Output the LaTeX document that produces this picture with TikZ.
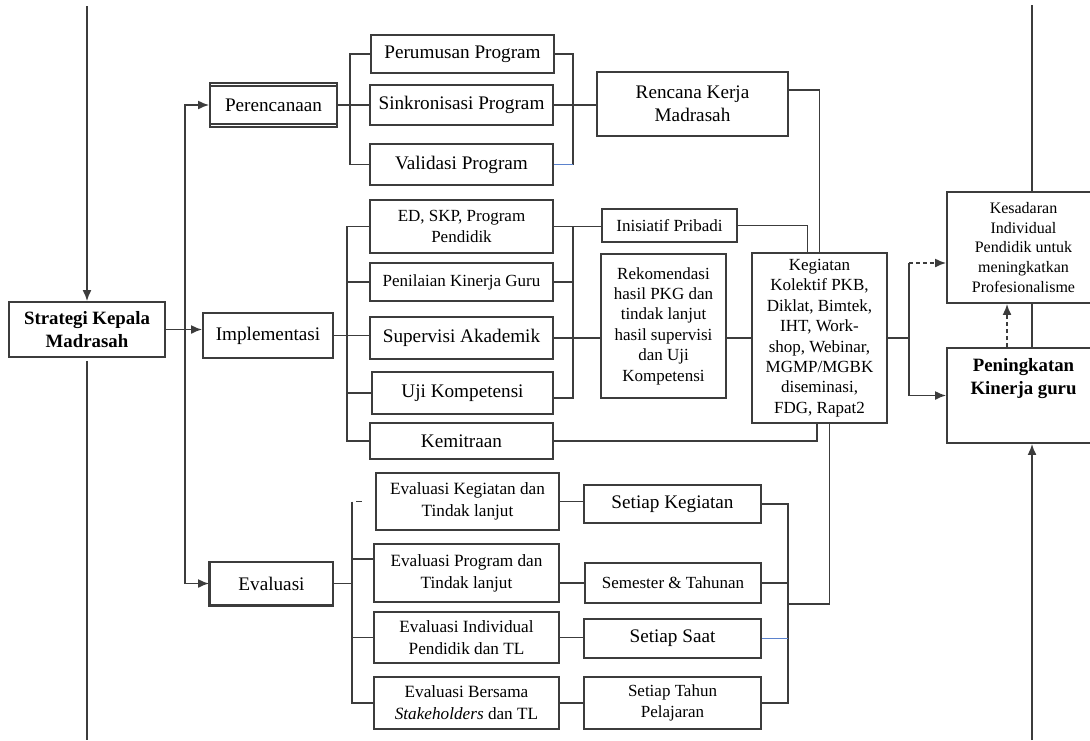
\documentclass[tikz,border=0pt]{standalone}
\usepackage{fontspec}
\setmainfont{Liberation Serif}
\usetikzlibrary{arrows.meta}

\definecolor{linegray}{RGB}{60,60,60}
\definecolor{linkblue}{RGB}{91,130,205}

\tikzset{
  box/.style={draw=linegray, line width=0.9pt, fill=white, align=center, inner sep=1pt},
  sz/.style 2 args={minimum width=#1*0.5pt, minimum height=#2*0.5pt},
  bigtext/.style={font=\fontsize{9.6}{11.5}\selectfont},
  midtext/.style={font=\fontsize{8.5}{10.2}\selectfont},
  evtext/.style={font=\fontsize{8.6}{11}\selectfont},
  smalltext/.style={font=\fontsize{8}{9.9}\selectfont},
  boldtext/.style={font=\fontsize{9.4}{11.8}\selectfont\bfseries},
  conn/.style={draw=linegray, line width=0.9pt},
  dashconn/.style={conn, dash pattern=on 2pt off 1.5pt}
}

\begin{document}
\begin{tikzpicture}[x=0.5pt, y=-0.5pt, >={Latex[length=5.5pt,width=4.5pt]}]
  \clip (0,0) rectangle (1090,740); % ukuran gambar

  % kolom kiri
  \node[box, boldtext, sz={156}{55}] (strategi) at (87,329.5) {Strategi Kepala\\Madrasah};
  \node[box, bigtext, sz={127}{44}] (perencanaan) at (273.5,105) {Perencanaan};
  \node[box, bigtext, sz={130}{45}] (implementasi) at (268,335.5) {Implementasi};
  \node[box, bigtext, sz={123}{43}] (evaluasi) at (271.5,583.5) {Evaluasi};

  % perencanaan
  \node[box, bigtext, sz={183}{38}] (perumusan) at (462.5,54) {Perumusan Program};
  \node[box, bigtext, sz={183}{40}] (sinkronisasi) at (461.5,105) {Sinkronisasi Program};
  \node[box, bigtext, sz={183}{41}] (validasi) at (461.5,164.5) {Validasi Program};
  \node[box, bigtext, sz={191}{64}] (rencana) at (692.5,104) {Rencana Kerja\\Madrasah};

  % implementasi
  \node[box, midtext, sz={183}{53}] (edskp) at (461.5,226.5) {ED, SKP, Program\\Pendidik};
  \node[box, midtext, sz={183}{38}] (penilaian) at (461.5,282) {Penilaian Kinerja Guru};
  \node[box, bigtext, sz={183}{42}] (supervisi) at (461.5,338) {Supervisi Akademik};
  \node[box, bigtext, sz={181}{42}] (uji) at (462.5,393) {Uji Kompetensi};
  \node[box, bigtext, sz={183}{36}] (kemitraan) at (461.5,441) {Kemitraan};
  \node[box, midtext, sz={135}{33}] (inisiatif) at (669.5,225.5) {Inisiatif Pribadi};
  \node[box, midtext, sz={125}{144}] (rekomendasi) at (663.5,326)
    {Rekomendasi\\hasil PKG dan\\tindak lanjut\\hasil supervisi\\dan Uji\\Kompetensi};
  \node[box, midtext, sz={135}{170}] (kegiatan) at (819.5,338)
    {Kegiatan\\Kolektif PKB,\\Diklat, Bimtek,\\IHT, Work-\\shop, Webinar,\\MGMP/MGBK\\diseminasi,\\FDG, Rapat2};

  % hasil
  \node[box, smalltext, sz={153}{111}] (kesadaran) at (1023.5,247.5)
    {Kesadaran\\Individual\\Pendidik untuk\\meningkatkan\\Profesionalisme};
  \node[box, sz={153}{95}] (peningkatan) at (1023.5,395.5) {};
  \node[boldtext, align=center, anchor=north] (peningkatanlbl) at ([yshift=-2pt]peningkatan.north)
    {Peningkatan\\Kinerja guru};

  % evaluasi
  \node[box, evtext, sz={183}{57}] (evkegiatan) at (467.5,501.5) {Evaluasi Kegiatan dan\\Tindak lanjut};
  \node[box, evtext, sz={185}{58}] (evprogram) at (466.5,573) {Evaluasi Program dan\\Tindak lanjut};
  \node[box, evtext, sz={185}{51}] (evindividu) at (466.5,637.5) {Evaluasi Individual\\Pendidik dan TL};
  \node[box, evtext, sz={185}{52}] (evbersama) at (466.5,703) {Evaluasi Bersama\\\textit{Stakeholders} dan TL};
  \node[box, bigtext, sz={177}{38}] (stkegiatan) at (672.5,504) {Setiap Kegiatan};
  \node[box, midtext, sz={176}{40}] (stsemester) at (673,583) {Semester \& Tahunan};
  \node[box, bigtext, sz={177}{39}] (stsaat) at (672.5,638.5) {Setiap Saat};
  \node[box, midtext, sz={177}{52}] (sttahun) at (672.5,703) {Setiap Tahun\\Pelajaran};

  % garis tepi ganda
  \draw[conn] ([yshift=-2pt]perencanaan.north west) -- ([yshift=-2pt]perencanaan.north east);
  \draw[conn] ([yshift=2pt]perencanaan.south west) -- ([yshift=2pt]perencanaan.south east);
  \draw[conn, line width=1.4pt] (evaluasi.north west) -- (evaluasi.south west) -- (evaluasi.south east);

  % titik bantu
  \coordinate (topL) at (87,6);
  \coordinate (botL) at (87,740);
  \coordinate (topR) at (1032,5);
  \coordinate (botR) at (1032,740);
  \coordinate (pbl) at (350,0);
  \coordinate (pbr) at (573,0);
  \coordinate (ibl) at (347,0);
  \coordinate (ibr) at (573,0);
  \coordinate (ebl) at (352,0);
  \coordinate (ebr) at (788,0);

  % strategi
  \draw[conn, ->] (topL) -- (strategi.north);
  \draw[conn] ([yshift=-1.5pt]strategi.south) -- (botL);
  \draw[conn, ->] (strategi.east) -- (strategi.east -| implementasi.west);
  \draw[conn, <->] (perencanaan.west) -| (185,400) |- (evaluasi.west);

  % perencanaan
  \draw[conn] (perencanaan.east) -- (sinkronisasi.west);
  \draw[conn] (perumusan.west) -| (pbl |- validasi.west) -- (validasi.west);
  \draw[conn] (perumusan.east) -| (pbr |- validasi.east);
  \draw[linkblue, line width=0.6pt] (validasi.east) -- (validasi.east -| pbr);
  \draw[conn] (sinkronisasi.east) -- (sinkronisasi.east -| rencana.west);
  \draw[conn] ([yshift=7pt]rencana.east) -| (kegiatan.north);

  % implementasi
  \draw[conn] (implementasi.east) -- (implementasi.east -| supervisi.west);
  \draw[conn] (edskp.west) -| (ibl |- kemitraan.west) -- (kemitraan.west);
  \foreach \n in {penilaian, uji}
    \draw[conn] (\n.west) -- (\n.west -| ibl);
  \draw[conn] (edskp.east) -- (edskp.east -| inisiatif.west);
  \draw[conn] (ibr |- edskp.east) |- ([yshift=-2.5pt]uji.east);
  \draw[conn] (penilaian.east) -- (penilaian.east -| ibr);
  \draw[conn] (supervisi.east) -- (supervisi.east -| rekomendasi.west);
  \draw[conn] (kegiatan.west) -- (kegiatan.west -| rekomendasi.east);
  \draw[conn] (inisiatif.east) -| ([xshift=-6pt]kegiatan.north);
  \draw[conn] (kemitraan.east) -| ([xshift=-1.25pt]kegiatan.south);

  % hasil
  \draw[conn] (kegiatan.east) -- ++(21,0) coordinate (split);
  \coordinate (kesin) at ([yshift=-7.75pt]kesadaran.west);
  \draw[conn] (split) -- (split |- kesin);
  \draw[dashconn, ->] (split |- kesin) -- (kesin);
  \draw[conn, ->] (split) |- (peningkatan.west);
  \draw[dashconn, ->] ([xshift=-8.25pt]peningkatan.north) -- ([xshift=-8.25pt]kesadaran.south);
  \draw[conn] ([xshift=4.25pt]peningkatan.north) -- ([xshift=4.25pt]kesadaran.south);
  \draw[conn] (topR) -- (topR |- kesadaran.north);
  \draw[conn, ->] (botR) -- (botR |- peningkatan.south);

  % evaluasi
  \draw[conn] (evaluasi.east) -- (evaluasi.east -| ebl);
  \draw[conn] (ebl |- evkegiatan.west) -- (ebl |- evbersama.west) -- (evbersama.west);
  \draw[conn] ([xshift=-9.5pt]evkegiatan.west) -- ++(6,0);
  \draw[conn] ([yshift=7pt]evprogram.west) -- ([yshift=7pt]evprogram.west -| ebl);
  \draw[conn] (evindividu.west) -- (evindividu.west -| ebl);
  \draw[conn] (evkegiatan.east) -- (evkegiatan.east -| stkegiatan.west);
  \draw[conn] (stsemester.west) -- (stsemester.west -| evprogram.east);
  \draw[conn] (evindividu.east) -- (evindividu.east -| stsaat.west);
  \draw[conn] (evbersama.east) -- (evbersama.east -| sttahun.west);
  \draw[conn] (stkegiatan.east) -| (ebr |- sttahun.east) -- (sttahun.east);
  \draw[conn] (stsemester.east) -- (stsemester.east -| ebr);
  \draw[linkblue, line width=0.6pt] (stsaat.east) -- (stsaat.east -| ebr);
  \draw[conn] (stsemester.south -| ebr) -| ([xshift=5pt]kegiatan.south);
\end{tikzpicture}
\end{document}
